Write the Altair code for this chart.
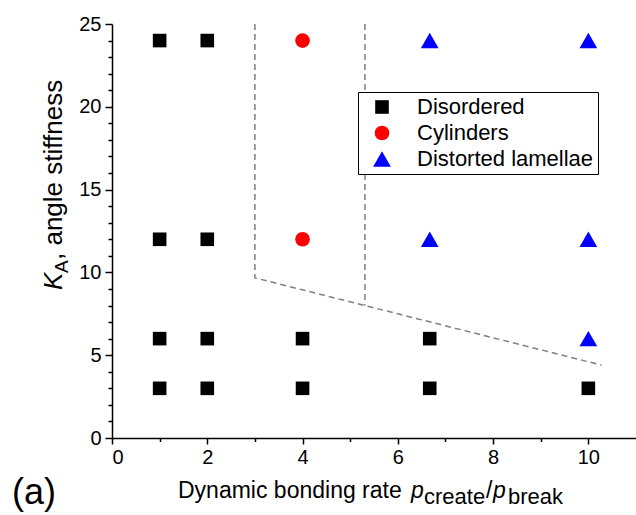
import altair as alt
import pandas as pd

# ---- data ----
phases = ["Disordered", "Cylinders", "Distorted lamellae"]
phase_colors = ["#000000", "#ff0000", "#0000ff"]
phase_shapes = ["square", "circle", "triangle-up"]
phase_sizes = [185, 215, 315]

dis_x = [1, 2, 1, 2, 1, 2, 4, 6.67, 1, 2, 4, 6.67, 10]
dis_y = [24, 24, 12, 12, 6, 6, 6, 6, 3, 3, 3, 3, 3]
cyl_x = [4, 4]
cyl_y = [24, 12]
lam_x = [6.67, 10, 6.67, 10, 10]
lam_y = [24, 24, 12, 12, 6]

bound1_x = [3, 3, 10.28]
bound1_y = [25, 9.67, 4.40]
bound2_x = [5.31, 5.31]
bound2_y = [25, 8.0]

x_major = [0, 2, 4, 6, 8, 10]
x_minor = [1, 3, 5, 7, 9]
y_major = [0, 5, 10, 15, 20, 25]
y_minor = [1, 2, 3, 4, 6, 7, 8, 9, 11, 12, 13, 14, 16, 17, 18, 19, 21, 22, 23, 24]

FONT = "Liberation Sans"
W, H = 524, 414
LEFT, TOP = 112, 24

pts = pd.DataFrame(
    {
        "x": dis_x + cyl_x + lam_x,
        "y": dis_y + cyl_y + lam_y,
        "phase": [phases[0]] * len(dis_x) + [phases[1]] * len(cyl_x) + [phases[2]] * len(lam_x),
    }
)
bnd = pd.DataFrame(
    {
        "x": bound1_x + bound2_x,
        "y": bound1_y + bound2_y,
        "seg": ["a"] * len(bound1_x) + ["b"] * len(bound2_x),
        "ord": list(range(len(bound1_x))) + list(range(len(bound2_x))),
    }
)

xscale = alt.Scale(domain=[0, 11], nice=False, zero=False)
yscale = alt.Scale(domain=[0, 25], nice=False, zero=False)

x_major_axis = alt.Axis(values=x_major, title=None, grid=False, tickSize=6, labelPadding=3,
                        orient="bottom", format="d")
y_major_axis = alt.Axis(values=y_major, title=None, grid=False, tickSize=7, labelPadding=4,
                        orient="left", format="d")
x_minor_axis = alt.Axis(values=x_minor, title=None, grid=False, tickSize=3.5, labels=False,
                        domain=False, orient="bottom")
y_minor_axis = alt.Axis(values=y_minor, title=None, grid=False, tickSize=4, labels=False,
                        domain=False, orient="left")

points = alt.Chart(pts).mark_point(filled=True, opacity=1, strokeWidth=0).encode(
    x=alt.X("x:Q", scale=xscale, axis=x_major_axis),
    y=alt.Y("y:Q", scale=yscale, axis=y_major_axis),
    color=alt.Color("phase:N", scale=alt.Scale(domain=phases, range=phase_colors),
                    sort=phases, legend=alt.Legend(title=None, orient="none", legendX=246, legendY=68)),
    shape=alt.Shape("phase:N", scale=alt.Scale(domain=phases, range=phase_shapes), sort=phases),
    size=alt.Size("phase:N", scale=alt.Scale(type="ordinal", domain=phases, range=phase_sizes),
                  sort=phases),
)

lines = alt.Chart(bnd).mark_line(color="#808080", strokeDash=[6, 4], strokeWidth=1.5).encode(
    x=alt.X("x:Q", scale=xscale, axis=x_minor_axis),
    y=alt.Y("y:Q", scale=yscale, axis=y_minor_axis),
    detail="seg:N",
    order="ord:Q",
)

one = pd.DataFrame({"k": [0]})


def txt(s, x, y, size, italic=False, angle=0):
    kw = dict(font=FONT, fontSize=size, color="black", align="left", baseline="alphabetic")
    if italic:
        kw["fontStyle"] = "italic"
    if angle:
        kw["angle"] = angle
    return alt.Chart(one).mark_text(**kw).encode(
        x=alt.value(x - LEFT), y=alt.value(y - TOP), text=alt.value(s)
    )


# x title pieces (absolute pixel anchors)
xt_main = 23
xt_sub = 22
xbase = 498
xsub = 504
texts = [
    txt("Dynamic bonding rate", 178, xbase, xt_main),
    txt("p", 411, xbase, xt_main, italic=True),
    txt("create", 424, xsub, xt_sub),
    txt("/", 486, xbase, xt_main),
    txt("p", 493, xbase, xt_main, italic=True),
    txt("break", 508, xsub, xt_sub),
    # y title pieces (rotated)
    txt("K", 62, 290, 26, italic=True, angle=270),
    txt("A", 68, 273, 19, angle=270),
    txt(", angle stiffness", 62, 260, 26, angle=270),
    # panel label
    txt("(a)", 12, 504, 36),
]

chart = alt.layer(lines, points, *texts).resolve_axis(x="independent", y="independent").properties(
    width=W,
    height=H,
    autosize=alt.AutoSizeParams(type="none"),
    padding={"left": LEFT, "top": TOP, "right": 0, "bottom": 515 - TOP - H},
    background="white",
).configure_view(stroke=None).configure_axis(
    domainColor="black",
    domainWidth=1.5,
    tickColor="black",
    tickWidth=1.5,
    labelFont=FONT,
    labelFontSize=20,
    labelColor="black",
).configure_legend(
    labelFont=FONT,
    labelFontSize=22,
    labelColor="black",
    labelLimit=0,
    strokeColor="black",
    fillColor="white",
    padding=4,
    rowPadding=4,
    symbolOffset=9,
    labelOffset=24,
    symbolStrokeWidth=0,
)

chart.save("out.html", embed_options={"renderer": "svg", "actions": False})
